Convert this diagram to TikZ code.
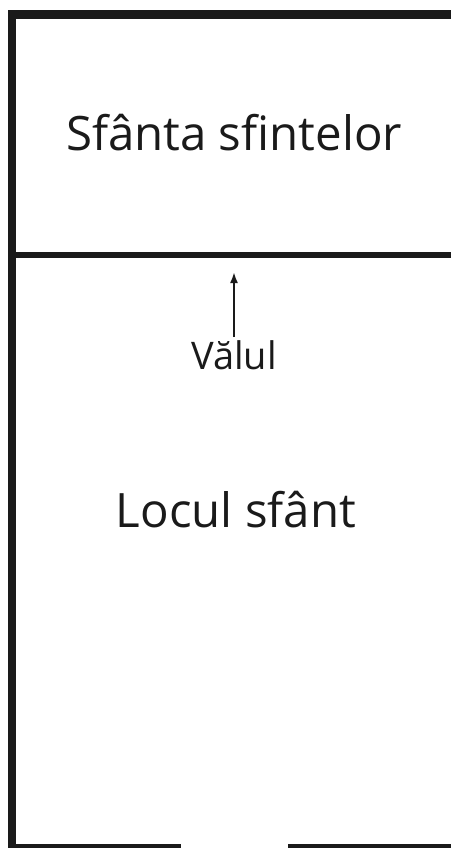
\documentclass[tikz,border=0pt]{standalone}
\usepackage{fontspec}
\setmainfont{Open Sans}
\usetikzlibrary{arrows.meta}
\definecolor{wallc}{HTML}{1A1A1A}
\begin{document}
\begin{tikzpicture}[x=1pt,y=-1pt,
  wall/.style={fill=wallc,draw=none},
  bigtext/.style={anchor=base,inner sep=0pt,font=\fontsize{47.4}{50}\selectfont,text=wallc},
  smalltext/.style={anchor=base,inner sep=0pt,font=\fontsize{38}{40}\selectfont,text=wallc},
  pointer/.style={draw=wallc,line width=2pt,-{Latex[length=11pt,width=8pt]}}]
\useasboundingbox (0,0) rectangle (451,848);
% walls
\fill[wall] (8,10) rectangle (451,19);
\fill[wall] (8,10) rectangle (16,848);
\fill[wall] (16,252) rectangle (451,258);
\fill[wall] (8,843.5) rectangle (181,848);
\fill[wall] (288,843.5) rectangle (451,848);
% labels
\node[bigtext] (holiest) at (234,150) {Sfânta sfintelor};
\node[bigtext] (holy) at (236,527) {Locul sfânt};
\node[smalltext] (veil) at (234,369) {Vălul};
\coordinate (veiltail) at (234,337);
\coordinate (veiltip) at (234,272);
\draw[pointer] (veiltail) -- (veiltip);
\end{tikzpicture}
\end{document}
